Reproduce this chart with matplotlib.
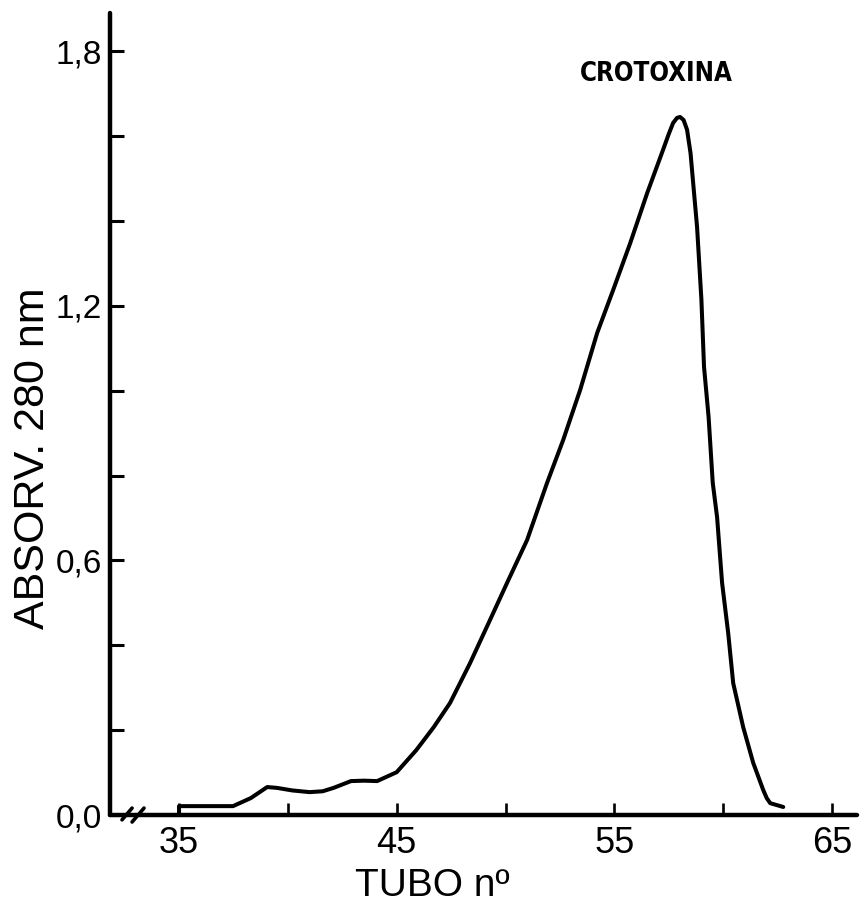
import matplotlib
matplotlib.use("Agg")
import matplotlib.pyplot as plt
import numpy as np

# ---- data ----
tubo = [35.0, 35.0, 37.48, 38.3, 39.05, 39.5, 40.2, 41.0, 41.6, 42.1, 42.9, 43.5, 44.1,
        45.0, 45.9, 46.7,
        47.45, 48.37, 49.29, 50.07, 50.99, 51.91, 52.65, 53.43, 54.21, 54.95,
        55.73, 56.51, 57.24, 57.50, 57.70, 57.88, 58.02, 58.18, 58.34, 58.50, 58.62, 58.80,
        59.00, 59.12, 59.33, 59.52, 59.72, 59.95, 60.23, 60.46, 60.92, 61.38, 61.84,
        62.0, 62.16, 62.76]
absorv = [0.0, 0.021, 0.021, 0.040, 0.066, 0.064, 0.058, 0.054, 0.056, 0.064, 0.080, 0.081,
          0.080, 0.101, 0.153, 0.207,
          0.264, 0.358, 0.460, 0.547, 0.648, 0.783, 0.884, 1.002, 1.136, 1.238,
          1.348, 1.466, 1.568, 1.605, 1.631, 1.643, 1.645, 1.638, 1.615, 1.560, 1.490, 1.386,
          1.214, 1.056, 0.938, 0.783, 0.702, 0.547, 0.429, 0.311, 0.207, 0.123, 0.059,
          0.040, 0.028, 0.019]

xticks = [35, 40, 45, 50, 55, 60, 65]
xtick_labels = ["35", "", "45", "", "55", "", "65"]
yticks = [0.0, 0.2, 0.4, 0.6, 0.8, 1.0, 1.2, 1.4, 1.6, 1.8]
ytick_labels = ["0,0", "", "", "0,6", "", "", "1,2", "", "", "1,8"]

peak_label = "CROTOXINA"
peak_x, peak_y = 56.91, 1.747

plt.rcParams['font.family'] = ['Liberation Sans', 'DejaVu Sans']

fig = plt.figure(figsize=(8.61, 9.05), dpi=100)
ax = fig.add_axes([0.1278, 0.0994, 0.8676, 0.8862])

ax.plot(tubo, absorv, color='black', lw=2.9, solid_joinstyle='round', solid_capstyle='round')

ax.set_xlim(31.83, 66.15)
ax.set_ylim(0, 1.89)

for s in ['top', 'right']:
    ax.spines[s].set_visible(False)
for s in ['left', 'bottom']:
    ax.spines[s].set_linewidth(3.2)
    ax.spines[s].set_capstyle('round')

ax.set_xticks(xticks)
ax.set_xticklabels(xtick_labels)
ax.set_yticks(yticks)
ax.set_yticklabels(ytick_labels)
ax.tick_params(axis='x', direction='in', length=8.6, width=1.9, pad=8, labelsize=26)
ax.tick_params(axis='y', direction='in', length=10, width=2.2, pad=6, labelsize=24)

ax.set_xlabel("TUBO nº", fontsize=28)
ax.xaxis.set_label_coords(0.432, -0.066)
ax.set_ylabel("ABSORV. 280 nm", fontsize=31)
ax.yaxis.set_label_coords(-0.076, 0.445)

ax.text(peak_x, peak_y, peak_label, ha='center', va='center', fontsize=18.5,
        fontweight='bold', fontstretch='condensed', family=['DejaVu Sans'])

# axis break marks
ax.plot([0.016, 0.0295], [-0.006, 0.0087], transform=ax.transAxes, color='black',
        lw=2.6, clip_on=False, solid_capstyle='round')
ax.plot([0.0295, 0.0455], [-0.0087, 0.0087], transform=ax.transAxes, color='black',
        lw=2.6, clip_on=False, solid_capstyle='round')

fig.savefig("out.png", dpi=100)
